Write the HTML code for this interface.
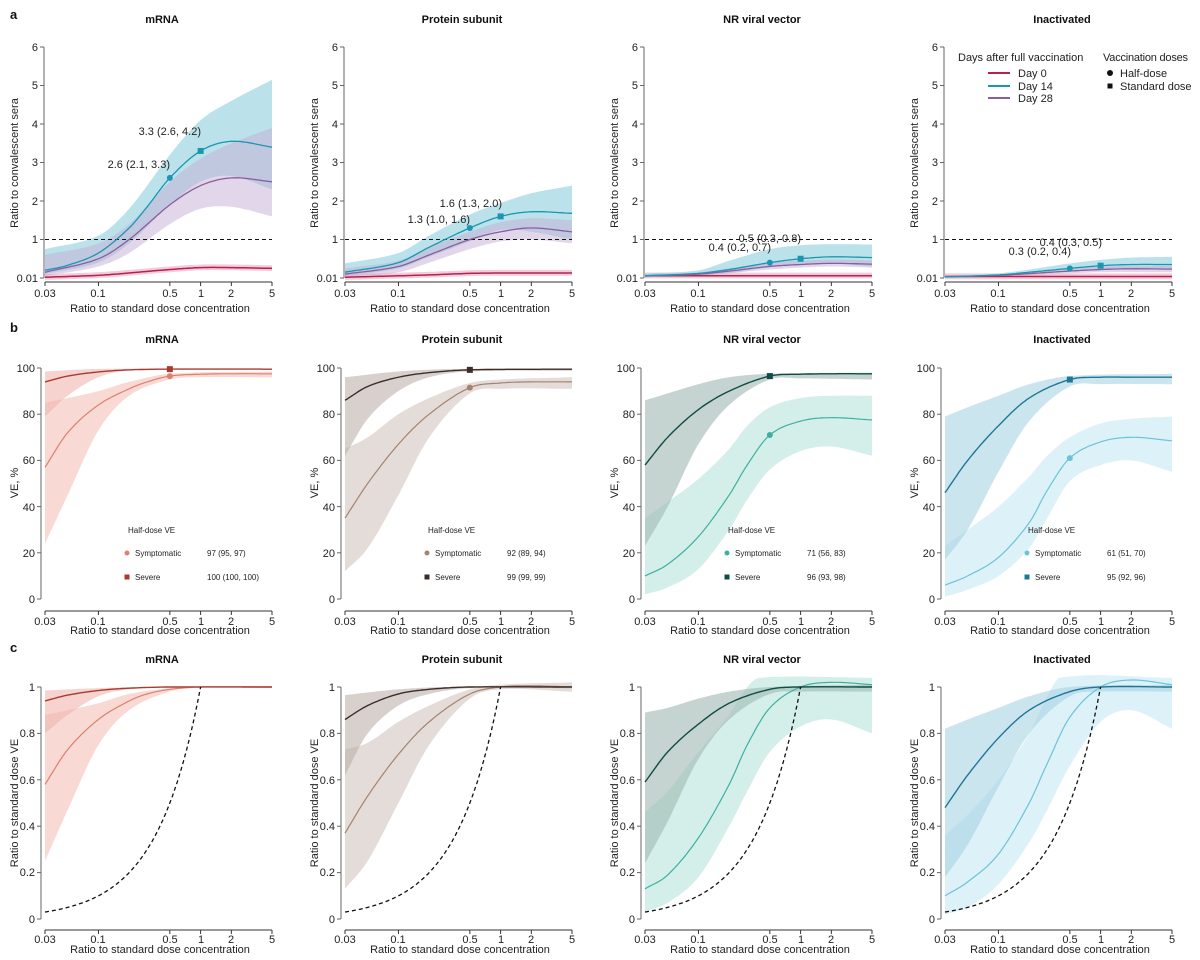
<!DOCTYPE html>
<html><head><meta charset="utf-8"><style>
body{margin:0;background:#fff}
svg{display:block;font-family:"Liberation Sans",Arial,sans-serif}
.tk{font-size:11px;fill:#222}
.tt{font-size:11px;font-weight:bold;fill:#111}
.ax{font-size:11px;fill:#222}
.lg{font-size:11px;fill:#222}
.sm{font-size:8px;fill:#222}
.pl{font-size:13px;font-weight:bold;fill:#111}
</style></head><body>
<svg id="s" width="1200" height="960" viewBox="0 0 1200 960" xmlns="http://www.w3.org/2000/svg">
<g id="shapes"></g>
<text class="pl" x="10" y="19">a</text>
<text class="pl" x="10" y="332">b</text>
<text class="pl" x="10" y="652">c</text>
<g id="txt">
<g class="tk" text-anchor="middle">
<text x="45" y="297">0.03</text><text x="98" y="297">0.1</text><text x="170" y="297">0.5</text><text x="201" y="297">1</text><text x="231" y="297">2</text><text x="272" y="297">5</text>
<text x="345" y="297">0.03</text><text x="398" y="297">0.1</text><text x="470" y="297">0.5</text><text x="501" y="297">1</text><text x="531" y="297">2</text><text x="572" y="297">5</text>
<text x="645" y="297">0.03</text><text x="698" y="297">0.1</text><text x="770" y="297">0.5</text><text x="801" y="297">1</text><text x="831" y="297">2</text><text x="872" y="297">5</text>
<text x="945" y="297">0.03</text><text x="998" y="297">0.1</text><text x="1070" y="297">0.5</text><text x="1101" y="297">1</text><text x="1131" y="297">2</text><text x="1172" y="297">5</text>
</g>
<g class="tk" text-anchor="end">
<text x="38" y="51">6</text><text x="38" y="89">5</text><text x="38" y="128">4</text><text x="38" y="166">3</text><text x="38" y="205">2</text><text x="38" y="243">1</text><text x="38" y="282">0.01</text>
<text x="338" y="51">6</text><text x="338" y="89">5</text><text x="338" y="128">4</text><text x="338" y="166">3</text><text x="338" y="205">2</text><text x="338" y="243">1</text><text x="338" y="282">0.01</text>
<text x="638" y="51">6</text><text x="638" y="89">5</text><text x="638" y="128">4</text><text x="638" y="166">3</text><text x="638" y="205">2</text><text x="638" y="243">1</text><text x="638" y="282">0.01</text>
<text x="938" y="51">6</text><text x="938" y="89">5</text><text x="938" y="128">4</text><text x="938" y="166">3</text><text x="938" y="205">2</text><text x="938" y="243">1</text><text x="938" y="282">0.01</text>
</g>
<g class="ax" text-anchor="middle">
<text x="160" y="312">Ratio to standard dose concentration</text><text x="460" y="312">Ratio to standard dose concentration</text><text x="760" y="312">Ratio to standard dose concentration</text><text x="1060" y="312">Ratio to standard dose concentration</text>
<text transform="translate(18,163) rotate(-90)">Ratio to convalescent sera</text><text transform="translate(318,163) rotate(-90)">Ratio to convalescent sera</text><text transform="translate(618,163) rotate(-90)">Ratio to convalescent sera</text><text transform="translate(918,163) rotate(-90)">Ratio to convalescent sera</text>
</g>
<g class="tt" text-anchor="middle">
<text x="162" y="23">mRNA</text><text x="462" y="23">Protein subunit</text><text x="762" y="23">NR viral vector</text><text x="1062" y="23">Inactivated</text>
<text x="162" y="343">mRNA</text><text x="462" y="343">Protein subunit</text><text x="762" y="343">NR viral vector</text><text x="1062" y="343">Inactivated</text>
<text x="162" y="663">mRNA</text><text x="462" y="663">Protein subunit</text><text x="762" y="663">NR viral vector</text><text x="1062" y="663">Inactivated</text>
</g>
<g class="tk" text-anchor="end">
<text x="201" y="135">3.3 (2.6, 4.2)</text><text x="170" y="168">2.6 (2.1, 3.3)</text>
<text x="502" y="207">1.6 (1.3, 2.0)</text><text x="470" y="223">1.3 (1.0, 1.6)</text>
<text x="801" y="242">0.5 (0.3, 0.8)</text><text x="771" y="251">0.4 (0.2, 0.7)</text>
<text x="1102" y="246">0.4 (0.3, 0.5)</text><text x="1071" y="255">0.3 (0.2, 0.4)</text>
</g>
<g class="lg">
<text x="958" y="61">Days after full vaccination</text>
<text x="1018" y="77">Day 0</text><text x="1018" y="90">Day 14</text><text x="1018" y="102">Day 28</text>
<text x="1103" y="61" textLength="85">Vaccination doses</text>
<text x="1120" y="77">Half-dose</text><text x="1120" y="90">Standard dose</text>
</g>
<g class="tk" text-anchor="middle">
<text x="45" y="625">0.03</text><text x="98" y="625">0.1</text><text x="170" y="625">0.5</text><text x="201" y="625">1</text><text x="231" y="625">2</text><text x="272" y="625">5</text>
<text x="345" y="625">0.03</text><text x="398" y="625">0.1</text><text x="470" y="625">0.5</text><text x="501" y="625">1</text><text x="531" y="625">2</text><text x="572" y="625">5</text>
<text x="645" y="625">0.03</text><text x="698" y="625">0.1</text><text x="770" y="625">0.5</text><text x="801" y="625">1</text><text x="831" y="625">2</text><text x="872" y="625">5</text>
<text x="945" y="625">0.03</text><text x="998" y="625">0.1</text><text x="1070" y="625">0.5</text><text x="1101" y="625">1</text><text x="1131" y="625">2</text><text x="1172" y="625">5</text>
</g>
<g class="tk" text-anchor="end">
<text x="35" y="372">100</text><text x="35" y="418">80</text><text x="35" y="464">60</text><text x="35" y="511">40</text><text x="35" y="557">20</text><text x="35" y="603">0</text>
<text x="335" y="372">100</text><text x="335" y="418">80</text><text x="335" y="464">60</text><text x="335" y="511">40</text><text x="335" y="557">20</text><text x="335" y="603">0</text>
<text x="635" y="372">100</text><text x="635" y="418">80</text><text x="635" y="464">60</text><text x="635" y="511">40</text><text x="635" y="557">20</text><text x="635" y="603">0</text>
<text x="935" y="372">100</text><text x="935" y="418">80</text><text x="935" y="464">60</text><text x="935" y="511">40</text><text x="935" y="557">20</text><text x="935" y="603">0</text>
</g>
<g class="ax" text-anchor="middle">
<text x="160" y="634">Ratio to standard dose concentration</text><text x="460" y="634">Ratio to standard dose concentration</text><text x="760" y="634">Ratio to standard dose concentration</text><text x="1060" y="634">Ratio to standard dose concentration</text>
<text transform="translate(18,483) rotate(-90)">VE, %</text><text transform="translate(318,483) rotate(-90)">VE, %</text><text transform="translate(618,483) rotate(-90)">VE, %</text><text transform="translate(918,483) rotate(-90)">VE, %</text>
</g>
<g class="sm">
<text x="128" y="533">Half-dose VE</text><text x="135" y="556">Symptomatic</text><text x="207" y="556">97 (95, 97)</text><text x="135" y="580">Severe</text><text x="207" y="580">100 (100, 100)</text>
<text x="428" y="533">Half-dose VE</text><text x="435" y="556">Symptomatic</text><text x="507" y="556">92 (89, 94)</text><text x="435" y="580">Severe</text><text x="507" y="580">99 (99, 99)</text>
<text x="728" y="533">Half-dose VE</text><text x="735" y="556">Symptomatic</text><text x="807" y="556">71 (56, 83)</text><text x="735" y="580">Severe</text><text x="807" y="580">96 (93, 98)</text>
<text x="1028" y="533">Half-dose VE</text><text x="1035" y="556">Symptomatic</text><text x="1107" y="556">61 (51, 70)</text><text x="1035" y="580">Severe</text><text x="1107" y="580">95 (92, 96)</text>
</g>
<g class="tk" text-anchor="middle">
<text x="45" y="943">0.03</text><text x="98" y="943">0.1</text><text x="170" y="943">0.5</text><text x="201" y="943">1</text><text x="231" y="943">2</text><text x="272" y="943">5</text>
<text x="345" y="943">0.03</text><text x="398" y="943">0.1</text><text x="470" y="943">0.5</text><text x="501" y="943">1</text><text x="531" y="943">2</text><text x="572" y="943">5</text>
<text x="645" y="943">0.03</text><text x="698" y="943">0.1</text><text x="770" y="943">0.5</text><text x="801" y="943">1</text><text x="831" y="943">2</text><text x="872" y="943">5</text>
<text x="945" y="943">0.03</text><text x="998" y="943">0.1</text><text x="1070" y="943">0.5</text><text x="1101" y="943">1</text><text x="1131" y="943">2</text><text x="1172" y="943">5</text>
</g>
<g class="tk" text-anchor="end">
<text x="35" y="691">1</text><text x="35" y="737">0.8</text><text x="35" y="784">0.6</text><text x="35" y="830">0.4</text><text x="35" y="876">0.2</text><text x="35" y="923">0</text>
<text x="335" y="691">1</text><text x="335" y="737">0.8</text><text x="335" y="784">0.6</text><text x="335" y="830">0.4</text><text x="335" y="876">0.2</text><text x="335" y="923">0</text>
<text x="635" y="691">1</text><text x="635" y="737">0.8</text><text x="635" y="784">0.6</text><text x="635" y="830">0.4</text><text x="635" y="876">0.2</text><text x="635" y="923">0</text>
<text x="935" y="691">1</text><text x="935" y="737">0.8</text><text x="935" y="784">0.6</text><text x="935" y="830">0.4</text><text x="935" y="876">0.2</text><text x="935" y="923">0</text>
</g>
<g class="ax" text-anchor="middle">
<text x="160" y="953">Ratio to standard dose concentration</text><text x="460" y="953">Ratio to standard dose concentration</text><text x="760" y="953">Ratio to standard dose concentration</text><text x="1060" y="953">Ratio to standard dose concentration</text>
<text transform="translate(18,803) rotate(-90)">Ratio to standard dose VE</text><text transform="translate(318,803) rotate(-90)">Ratio to standard dose VE</text><text transform="translate(618,803) rotate(-90)">Ratio to standard dose VE</text><text transform="translate(918,803) rotate(-90)">Ratio to standard dose VE</text>
</g>
</g>
</svg>
<script>
(function(){
var G=document.getElementById('shapes'),out='';
function X(c,v){return 45+300*c+(Math.log10(v)+1.5229)/2.2218*227;}
var YA=function(v){return 278-v*38.5},YB=function(v){return 599-v*2.31},YC=function(v){return 919-v*232};
function interp(p,v){if(typeof p==='function')return p(v);var t=Math.log10(v);var xs=p.map(function(q){return Math.log10(q[0])}),ys=p.map(function(q){return q[1]});var n=p.length;
 if(t<=xs[0])return ys[0];if(t>=xs[n-1])return ys[n-1];
 var i=0;while(t>xs[i+1])i++;
 function m(k){if(k==0)return (ys[1]-ys[0])/(xs[1]-xs[0]);if(k==n-1)return (ys[n-1]-ys[n-2])/(xs[n-1]-xs[n-2]);return (ys[k+1]-ys[k-1])/(xs[k+1]-xs[k-1]);}
 var h=xs[i+1]-xs[i],s=(t-xs[i])/h,s2=s*s,s3=s2*s;
 return (2*s3-3*s2+1)*ys[i]+(s3-2*s2+s)*h*m(i)+(-2*s3+3*s2)*ys[i+1]+(s3-s2)*h*m(i+1);}
function samples(a,b){var r=[],N=100;for(var k=0;k<=N;k++){r.push(Math.pow(10,Math.log10(a)+(Math.log10(b)-Math.log10(a))*k/N));}return r;}
function line(c,Y,p,col,w,dash,a,b){var s=samples(a||0.03,b||5),d='';s.forEach(function(v,k){d+=(k?'L':'M')+X(c,v).toFixed(1)+','+Y(interp(p,v)).toFixed(1);});
 out+='<path d="'+d+'" fill="none" stroke="'+col+'" stroke-width="'+w+'"'+(dash?' stroke-dasharray="'+dash+'"':'')+'/>';}
function band(c,Y,lo,hi,col,op){var s=samples(0.03,5),d='';s.forEach(function(v,k){d+=(k?'L':'M')+X(c,v).toFixed(1)+','+Y(interp(hi,v)).toFixed(1);});
 s.slice().reverse().forEach(function(v){d+='L'+X(c,v).toFixed(1)+','+Y(interp(lo,v)).toFixed(1);});
 out+='<path d="'+d+'Z" fill="'+col+'" fill-opacity="'+op+'"/>';}
function circ(x,y,r,col){out+='<circle cx="'+x+'" cy="'+y+'" r="'+r+'" fill="'+col+'"/>';}
function sq(x,y,s,col){out+='<rect x="'+(x-s/2)+'" y="'+(y-s/2)+'" width="'+s+'" height="'+s+'" fill="'+col+'"/>';}
function axes(c,Y,vals,top,bot,xa,yoff){var ax=X(c,0.03)-yoff;
 out+='<path d="M'+ax+','+Y(top)+'V'+Y(bot)+'" stroke="#666" stroke-width="1" fill="none"/>';
 vals.forEach(function(v){out+='<path d="M'+(ax-4)+','+Y(v)+'H'+ax+'" stroke="#666"/>';});
 out+='<path d="M'+X(c,0.03)+','+xa+'H'+X(c,5)+'" stroke="#333" stroke-width="1"/>';
 [0.03,0.1,0.5,1,2,5].forEach(function(v){out+='<path d="M'+X(c,v)+','+xa+'v4" stroke="#333"/>';});}
function P(a){var r=[];for(var i=0;i<a.length;i+=2)r.push([a[i],a[i+1]]);return r;}

var A=[
 {d14:P([0.03,0.2,0.05,0.33,0.1,0.65,0.2,1.3,0.3,1.85,0.5,2.6,1,3.3,2,3.55,5,3.4]),d14l:P([0.03,0.1,0.1,0.4,0.2,0.9,0.5,1.9,1,2.5,2,2.65,5,2.3]),d14h:P([0.03,0.75,0.1,1.1,0.2,1.8,0.5,3.2,1,4.1,2,4.6,5,5.15]),
  d28:P([0.03,0.15,0.1,0.5,0.2,1.0,0.5,1.9,1,2.4,2,2.6,5,2.5]),d28l:P([0.03,0.05,0.1,0.3,0.2,0.65,0.5,1.4,1,1.8,2,1.85,5,1.6]),d28h:P([0.03,0.6,0.1,0.9,0.2,1.4,0.5,2.5,1,3.1,2,3.5,5,3.9]),
  d0:P([0.03,0.02,0.1,0.07,0.2,0.13,0.5,0.22,1,0.27,2,0.27,5,0.25])},
 {d14:P([0.03,0.15,0.1,0.4,0.2,0.8,0.5,1.3,1,1.6,2,1.72,5,1.68]),d14l:P([0.03,0.05,0.1,0.25,0.2,0.55,0.5,0.95,1,1.25,2,1.2,5,1.0]),d14h:P([0.03,0.38,0.1,0.65,0.2,1.1,0.5,1.65,1,1.95,2,2.2,5,2.4]),
  d28:P([0.03,0.1,0.1,0.3,0.2,0.6,0.5,1.0,1,1.2,2,1.3,5,1.2]),d28l:P([0.03,0.03,0.1,0.15,0.2,0.4,0.5,0.75,1,0.95,2,1.0,5,0.9]),d28h:P([0.03,0.25,0.1,0.45,0.2,0.8,0.5,1.2,1,1.45,2,1.55,5,1.5]),
  d0:P([0.03,0.02,0.2,0.08,0.5,0.12,1,0.13,5,0.13])},
 {d14:P([0.03,0.06,0.1,0.12,0.2,0.22,0.5,0.4,1,0.5,2,0.55,5,0.53]),d14l:P([0.03,0.03,0.1,0.07,0.2,0.13,0.5,0.28,1,0.35,2,0.38,5,0.3]),d14h:P([0.03,0.12,0.1,0.2,0.2,0.45,0.5,0.75,1,0.85,2,0.88,5,0.87]),
  d28:P([0.03,0.05,0.1,0.1,0.2,0.18,0.5,0.3,1,0.35,2,0.38,5,0.36]),d28l:P([0.03,0.02,0.1,0.06,0.5,0.22,1,0.27,2,0.3,5,0.27]),d28h:P([0.03,0.08,0.1,0.15,0.5,0.4,1,0.45,2,0.48,5,0.46]),
  d0:P([0.03,0.06,5,0.06])},
 {d14:P([0.03,0.03,0.1,0.08,0.2,0.15,0.5,0.25,1,0.32,2,0.35,5,0.35]),d14l:P([0.03,0.01,0.1,0.05,0.5,0.17,1,0.23,2,0.24,5,0.22]),d14h:P([0.03,0.06,0.1,0.12,0.2,0.22,0.5,0.38,1,0.47,2,0.53,5,0.55]),
  d28:P([0.03,0.03,0.1,0.07,0.5,0.18,1,0.22,2,0.24,5,0.23]),d28l:P([0.03,0.01,0.1,0.04,0.5,0.12,1,0.15,5,0.15]),d28h:P([0.03,0.05,0.1,0.1,0.5,0.24,1,0.3,5,0.32]),
  d0:P([0.03,0.04,5,0.04])}];
A.forEach(function(p,c){
 axes(c,YA,[6,5,4,3,2,1,0],6,0,282,1);
 band(c,YA,p.d0.map(function(q){return [q[0],q[1]-0.07]}),p.d0.map(function(q){return [q[0],q[1]+0.08]}),'#e79ab3',0.5);
 band(c,YA,p.d14l,p.d14h,'#9ed6e3',0.7);
 band(c,YA,p.d28l,p.d28h,'#c5aed6',0.5);
 out+='<path d="M'+X(c,0.03)+','+YA(1)+'H'+X(c,5)+'" stroke="#111" stroke-dasharray="4,3"/>';
 line(c,YA,p.d0,'#b8204f',1.5);line(c,YA,p.d28,'#8c5c9e',1.3);line(c,YA,p.d14,'#1b96b1',1.3);
 circ(X(c,0.5),YA(interp(p.d14,0.5)),3,'#1b96b1');sq(X(c,1),YA(interp(p.d14,1)),6,'#1b96b1');
});
out+='<path d="M988,73H1010" stroke="#b8204f" stroke-width="2"/><path d="M988,86H1010" stroke="#1b96b1" stroke-width="2"/><path d="M988,98H1010" stroke="#8c5c9e" stroke-width="2"/>';
circ(1110,73,3,'#111');sq(1110,86,5,'#111');

var B=[
 {sc:'#a83a30',sb:'#f0b6ae',yc:'#dd806f',yb:'#f6cfc9',
  s:P([0.03,94,0.05,96.5,0.1,98.3,0.2,99.2,0.5,99.5,5,99.5]),sl:P([0.03,79,0.05,88,0.1,96,0.2,99,0.5,99.4,5,99.3]),sh:P([0.03,98.5,0.1,99.6,5,99.8]),
  y:P([0.03,57,0.05,72,0.1,84,0.2,91,0.3,94,0.5,96.5,1,97.3,2,97.5,5,97.5]),yl:P([0.03,24,0.05,45,0.1,73,0.2,88,0.5,95,1,96,5,96]),yh:P([0.03,85,0.05,87,0.1,90,0.2,94,0.5,97.5,5,98.5]),
  cs:P([0.03,0.94,0.05,0.965,0.1,0.985,0.2,0.995,0.5,1,5,1]),csl:P([0.03,0.8,0.05,0.88,0.1,0.96,0.2,0.99,0.5,0.998,5,0.998]),csh:P([0.03,0.985,0.1,0.995,0.3,1.0,5,1.002]),
  cy:P([0.03,0.58,0.05,0.73,0.1,0.86,0.2,0.94,0.3,0.97,0.5,0.99,1,1,5,1]),cyl:P([0.03,0.25,0.05,0.47,0.1,0.75,0.2,0.9,0.5,0.98,1,0.997,5,0.997]),cyh:P([0.03,0.88,0.05,0.9,0.1,0.93,0.2,0.97,0.5,0.995,1,1.003,5,1.003])},
 {sc:'#3d2d28',sb:'#bdb0aa',yc:'#a5836f',yb:'#ddd3ce',
  s:P([0.03,86,0.05,92,0.1,96,0.2,98,0.5,99.2,5,99.5]),sl:P([0.03,62,0.05,78,0.1,90,0.2,96,0.5,98.5,5,98.8]),sh:P([0.03,96,0.1,98.5,0.3,99.5,5,99.8]),
  y:P([0.03,35,0.05,50,0.1,67,0.2,80,0.5,91.5,1,93.5,2,94,5,94]),yl:P([0.03,12,0.05,22,0.1,45,0.2,70,0.5,89,1,91,5,91]),yh:P([0.03,65,0.05,70,0.1,80,0.2,87,0.5,93.5,1,95,5,96]),
  cs:P([0.03,0.86,0.05,0.92,0.1,0.97,0.2,0.99,0.5,1,5,1]),csl:P([0.03,0.62,0.05,0.8,0.1,0.92,0.2,0.97,0.5,0.995,5,0.995]),csh:P([0.03,0.965,0.1,0.99,0.3,1.0,5,1.003]),
  cy:P([0.03,0.37,0.05,0.53,0.1,0.71,0.2,0.85,0.5,0.97,1,1,2,1.005,5,1]),cyl:P([0.03,0.13,0.05,0.25,0.1,0.5,0.2,0.75,0.5,0.95,1,0.99,5,0.98]),cyh:P([0.03,0.73,0.05,0.76,0.1,0.85,0.2,0.92,0.5,0.99,1,1.01,5,1.02])},
 {sc:'#0f4c44',sb:'#9fb7b2',yc:'#3db0a0',yb:'#c9ebe3',
  s:P([0.03,58,0.05,70,0.1,82,0.2,90,0.5,96.5,1,97.3,2,97.5,5,97.5]),sl:P([0.03,23,0.05,40,0.1,67,0.2,84,0.5,95,1,95.5,5,95]),sh:P([0.03,86,0.05,89,0.1,93,0.2,96,0.5,97.5,5,98]),
  y:P([0.03,10,0.05,15,0.1,27,0.2,45,0.3,58,0.5,71,1,77,2,78.5,5,77.5]),yl:P([0.03,2,0.05,5,0.1,13,0.2,30,0.3,43,0.5,56,1,64,2,66,5,62]),yh:P([0.03,35,0.05,42,0.1,52,0.2,65,0.3,75,0.5,83,1,87,2,88,5,88]),
  cs:P([0.03,0.59,0.05,0.72,0.1,0.84,0.2,0.93,0.5,0.99,1,1,5,1]),csl:P([0.03,0.24,0.05,0.42,0.1,0.69,0.2,0.86,0.5,0.97,1,0.98,5,0.98]),csh:P([0.03,0.89,0.05,0.91,0.1,0.95,0.2,0.98,0.5,1.0,5,1.01]),
  cy:P([0.03,0.13,0.05,0.19,0.1,0.35,0.2,0.58,0.3,0.75,0.5,0.91,1,1,2,1.02,5,1.01]),cyl:P([0.03,0.03,0.05,0.07,0.1,0.18,0.2,0.4,0.3,0.55,0.5,0.72,1,0.83,2,0.86,5,0.8]),cyh:P([0.03,0.46,0.05,0.55,0.1,0.72,0.2,0.88,0.3,1.0,0.4,1.04,5,1.04])},
 {sc:'#1f7797',sb:'#a9d3e2',yc:'#6cc3d8',yb:'#d4edf6',
  s:P([0.03,46,0.05,60,0.1,75,0.2,87,0.5,95,1,96,2,96,5,96]),sl:P([0.03,17,0.05,30,0.1,55,0.2,77,0.5,92,1,93,5,93]),sh:P([0.03,79,0.05,83,0.1,88,0.2,93,0.5,96.5,5,97.5]),
  y:P([0.03,6,0.05,10,0.1,18,0.2,33,0.3,47,0.5,61,1,68,2,70,5,68.5]),yl:P([0.03,1,0.05,4,0.1,10,0.2,22,0.3,35,0.5,51,1,58,2,60,5,55]),yh:P([0.03,23,0.05,30,0.1,40,0.2,53,0.3,62,0.5,70,1,76,2,78,5,79]),
  cs:P([0.03,0.48,0.05,0.62,0.1,0.78,0.2,0.9,0.5,0.98,1,1,5,1]),csl:P([0.03,0.18,0.05,0.32,0.1,0.57,0.2,0.8,0.5,0.96,1,0.98,5,0.98]),csh:P([0.03,0.82,0.05,0.86,0.1,0.91,0.2,0.96,0.5,1,5,1.01]),
  cy:P([0.03,0.1,0.05,0.16,0.1,0.28,0.2,0.5,0.3,0.67,0.5,0.87,1,1,2,1.03,5,1.01]),cyl:P([0.03,0.02,0.05,0.05,0.1,0.15,0.2,0.33,0.3,0.47,0.5,0.66,1,0.85,2,0.9,5,0.82]),cyh:P([0.03,0.36,0.05,0.45,0.1,0.6,0.2,0.8,0.3,0.96,0.4,1.04,5,1.04])}];
B.forEach(function(p,c){
 axes(c,YB,[100,80,60,40,20,0],100,0,611,4);
 band(c,YB,p.yl,p.yh,p.yb,0.8);band(c,YB,p.sl,p.sh,p.sb,0.6);
 line(c,YB,p.y,p.yc,1.2);line(c,YB,p.s,p.sc,1.4);
 circ(X(c,0.5),YB(interp(p.y,0.5)),3,p.yc);sq(X(c,0.5),YB(interp(p.s,0.5)),6,p.sc);
 var lx=45+300*c+82;circ(lx,553,2.5,p.yc);sq(lx,577,5,p.sc);
 axes(c,YC,[1,0.8,0.6,0.4,0.2,0],1,0,930,4);
 band(c,YC,p.cyl,p.cyh,p.yb,0.8);band(c,YC,p.csl,p.csh,p.sb,0.6);
 line(c,YC,p.cy,p.yc,1.2);line(c,YC,p.cs,p.sc,1.4);
 line(c,YC,function(v){return v;},'#111',1.3,'4,3',0.03,1);
});
G.innerHTML=out;
})();
</script>
</body></html>
